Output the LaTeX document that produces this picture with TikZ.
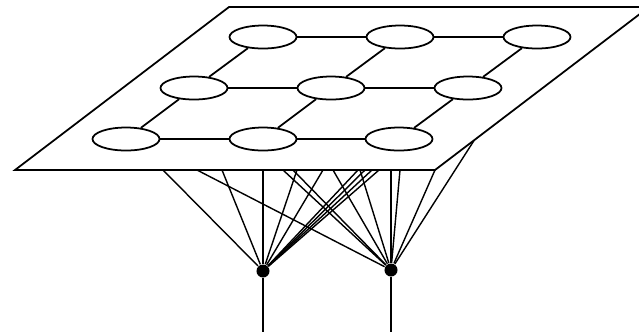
\documentclass[tikz,border=0pt]{standalone}
\usetikzlibrary{shapes.geometric}

\begin{document}
\begin{tikzpicture}[
    x=0.01cm, y=-0.01cm,
    unit/.style={ellipse, draw, fill=white, line width=0.5pt,
        minimum width=0.67cm, minimum height=0.23cm, inner sep=0pt},
    neuron/.style={circle, fill=black, minimum size=0.13cm, inner sep=0pt},
    link/.style={line width=0.5pt},
    wire/.style={line width=0.4pt}
]
\useasboundingbox (0,0) rectangle (639,335);
\clip (0,0) rectangle (639,335);

% Sheet corners
\coordinate (tl) at (229,7);
\coordinate (tr) at (649,7);
\coordinate (br) at (435,170);
\coordinate (bl) at (15,170);

% Input neurons
\node[neuron] (dotL) at (263,271) {};
\node[neuron] (dotR) at (391,270) {};
\coordinate (outL) at (263,332);
\coordinate (outR) at (391,332);
\draw[wire] (dotL) -- (outL);
\draw[wire] (dotR) -- (outR);

% Wires to the sheet
\foreach \x/\y [count=\i] in {163/170,222/170,263/170,297/170,323/170,
    358/170,365/170,372/170,379/170}
    \coordinate (l\i) at (\x,\y);
\foreach \x/\y [count=\i] in {197/170,283/170,293/170,333/170,360/170,
    391/170,400/170,435/170,475/139}
    \coordinate (r\i) at (\x,\y);
\foreach \i in {1,...,9} {
    \draw[wire] (dotL) -- (l\i);
    \draw[wire] (dotR) -- (r\i);
}

% Sheet
\draw[line width=0.5pt, fill=white] (tl) -- (tr) -- (br) -- (bl) -- cycle;

% Units
\node[unit] (u11) at (263,37) {};
\node[unit] (u12) at (400,37) {};
\node[unit] (u13) at (537,37) {};
\node[unit] (u21) at (194,88) {};
\node[unit] (u22) at (331,88) {};
\node[unit] (u23) at (468,88) {};
\node[unit] (u31) at (126,139) {};
\node[unit] (u32) at (263,139) {};
\node[unit] (u33) at (399,139) {};

% Grid links
\foreach \r in {1,2,3} {
    \draw[link] (u\r1) -- (u\r2);
    \draw[link] (u\r2) -- (u\r3);
}
\foreach \c in {1,2,3} {
    \draw[link] (u1\c) -- (u2\c);
    \draw[link] (u2\c) -- (u3\c);
}

\end{tikzpicture}
\end{document}
